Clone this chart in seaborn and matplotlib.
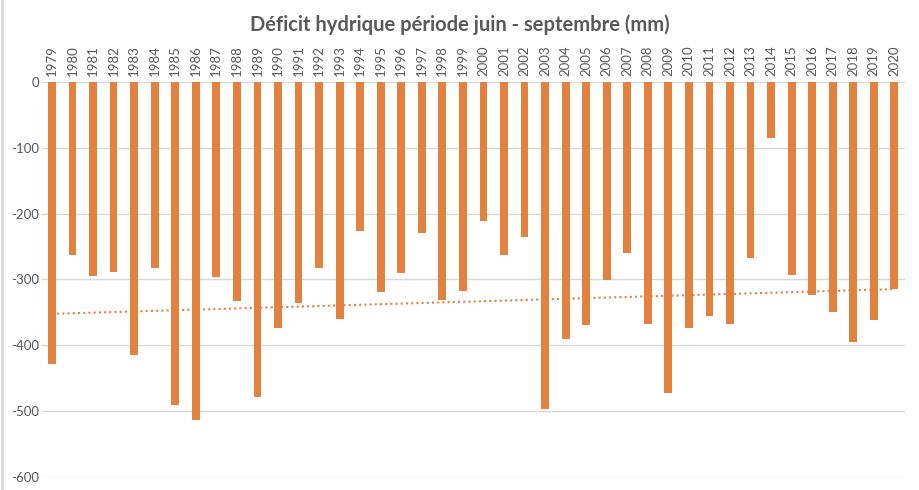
"""
Déficit hydrique période juin - septembre (barres + tendance linéaire)
"""
import numpy as np
import pandas as pd
import matplotlib
matplotlib.use('Agg')
import matplotlib.pyplot as plt
import seaborn as sns

# Données
years = list(range(1979, 2021))
deficit = [
    -428, -263, -295, -289, -415, -283, -490, -514, -297, -333,
    -478, -374, -336, -283, -360, -227, -319, -290, -230, -331,
    -317, -211, -263, -236, -497, -391, -369, -301, -260, -368,
    -472, -373, -355, -368, -267, -86, -293, -324, -349, -395,
    -362, -315,
]
yticks = [0, -100, -200, -300, -400, -500, -600]

BAR_COLOR = '#E3823F'
TEXT_COLOR = '#595959'
GRID_COLOR = '#D9D9D9'

sns.set_theme(style='white')
plt.rcParams['font.family'] = ['Lato', 'DejaVu Sans']

df = pd.DataFrame({'annee': [str(y) for y in years], 'deficit': deficit})

fig = plt.figure(figsize=(9.2, 4.9), dpi=100)
ax = fig.add_axes([0.0453, 0.0265, 0.938, 0.8065])

# Grille horizontale
for t in yticks:
    ax.axhline(t, color=GRID_COLOR, linewidth=1, zorder=0)

sns.barplot(data=df, x='annee', y='deficit', color=BAR_COLOR,
            width=0.38, saturation=1, linewidth=0, ax=ax, zorder=2)

# Tendance linéaire (comme Excel)
xs = np.arange(len(years))
coef = np.polyfit(xs, deficit, 1)
ax.plot(xs, np.polyval(coef, xs), linestyle=(0, (1, 1.5)),
        color=BAR_COLOR, linewidth=1.5, zorder=3)

ax.set_ylim(-600, 0)
ax.set_xlim(-0.5, len(years) - 0.5)
ax.set_yticks(yticks)
ax.set_yticklabels([str(t) for t in yticks], color=TEXT_COLOR, fontsize=9.5)
ax.xaxis.tick_top()
ax.tick_params(axis='x', labelrotation=90, labelsize=9.5, colors=TEXT_COLOR,
               length=0, pad=4)
ax.tick_params(axis='y', length=0, pad=2)
ax.set_xlabel('')
ax.set_ylabel('')
for s in ax.spines.values():
    s.set_visible(False)

fig.suptitle('Déficit hydrique période juin - septembre (mm)',
             x=0.5, y=0.97, fontsize=14.5, fontweight='bold', color=TEXT_COLOR)

# Cadre gris à gauche (bord du graphique Excel)
fig.add_artist(plt.Line2D([0.002, 0.002], [0, 1], color=GRID_COLOR,
                          linewidth=2, transform=fig.transFigure))

fig.savefig('out.png', dpi=100)
plt.close(fig)
